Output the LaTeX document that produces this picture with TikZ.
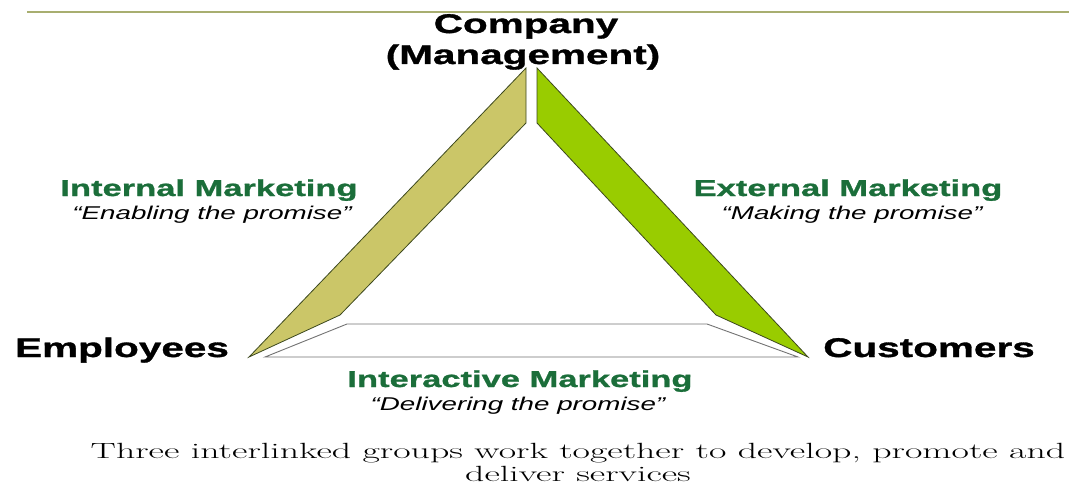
\documentclass[tikz,border=0pt]{standalone}
\usepackage{fontspec}
\usepackage{graphicx}
\usetikzlibrary{positioning}

\newfontfamily\trifont[FakeStretch=1.5, BoldFeatures={FakeBold=1.2}]{Liberation Sans}

\definecolor{rulecol}{RGB}{168,174,112}
\definecolor{olivefill}{RGB}{203,198,104}
\definecolor{limefill}{RGB}{153,204,0}
\definecolor{bandedge}{RGB}{60,72,30}
\definecolor{baseedge}{RGB}{115,115,115}
\definecolor{mktgreen}{RGB}{27,110,58}

\tikzset{
  band/.style={draw=bandedge, line width=0.8pt, line join=miter},
  party/.style={font=\trifont\fontsize{27}{30}\selectfont\bfseries, anchor=base, inner sep=0pt},
  mkt/.style={font=\trifont\fontsize{23}{26}\selectfont\bfseries, text=mktgreen, anchor=base, inner sep=0pt},
  promise/.style={font=\trifont\fontsize{18.5}{21}\selectfont\itshape, anchor=base, inner sep=0pt},
  caption/.style={font=\fontsize{22}{25}\selectfont, anchor=base, inner sep=0pt}
}

\begin{document}
\begin{tikzpicture}[x=1pt, y=-1pt]
    \useasboundingbox (0,0) rectangle (1069,487);
    \draw[rulecol, line width=2.4pt] (27,12) -- (1069,12); % slide rule

    % corners of the triangle
    \coordinate (empl tip) at (249,357);
    \coordinate (cust tip) at (808,357);

    % left side: company -> employees
    \filldraw[band, fill=olivefill] (empl tip) -- (526,68) -- (526,123) -- (340,315) -- cycle;
    % right side: company -> customers
    \filldraw[band, fill=limefill] (cust tip) -- (537,68) -- (537,123) -- (716,315) -- cycle;
    % base: employees <-> customers
    \filldraw[draw=baseedge, fill=white, line width=0.9pt] (265,357) -- (347,324) -- (707,324) -- (798,357) -- cycle;

    % the three groups
    \node[party] (company) at (526,33) {Company};
    \node[party] (mgmt) at (523,64) {(Management)};
    \node[party] (employees) at (122,357) {Employees};
    \node[party] (customers) at (929,357) {Customers};

    % marketing on each side
    \node[mkt] (internal) at (209,196) {Internal Marketing};
    \node[promise] (internal q) at (212,219) {“Enabling the promise”};
    \node[mkt] (external) at (848,196) {External Marketing};
    \node[promise] (external q) at (852,219) {“Making the promise”};
    \node[mkt] (interactive) at (520,387) {Interactive Marketing};
    \node[promise] (interactive q) at (518,410) {“Delivering the promise”};

    % caption
    \node[caption] (cap1) at (578,458) {\scalebox{1.72}[1]{Three interlinked groups work together to develop, promote and}};
    \node[caption] (cap2) at (578,481) {\scalebox{1.72}[1]{deliver services}};
\end{tikzpicture}
\end{document}
